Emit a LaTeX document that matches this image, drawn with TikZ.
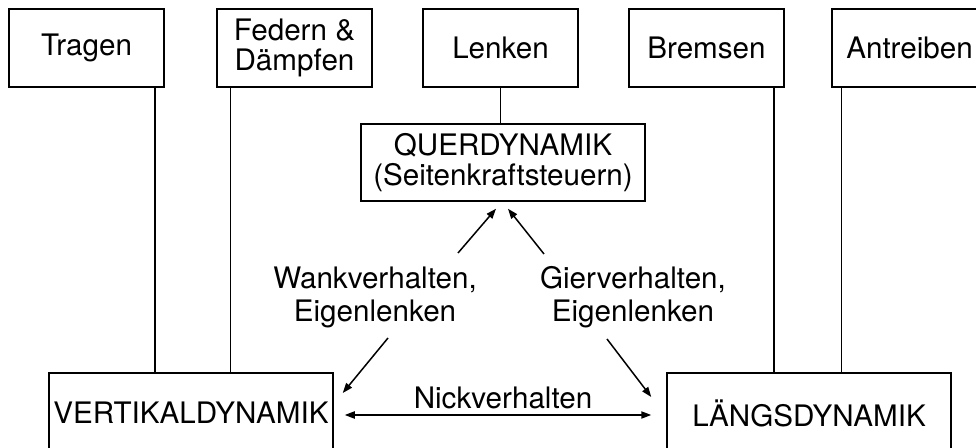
\documentclass[tikz,border=0pt]{standalone}
\usepackage{fontspec}
\setmainfont{TeX Gyre Heros}
\usetikzlibrary{calc,arrows.meta}
\begin{document}
\begin{tikzpicture}[x=0.5pt,y=-0.5pt,
  every node/.style={font=\fontsize{14.8}{15}\selectfont},
  box/.style={draw,line width=0.75pt,align=center,inner sep=0pt,
              minimum width=77.5pt,minimum height=39pt},
  bigbox/.style={box,minimum width=142pt},
  lbl/.style={align=center,inner sep=0pt,font=\fontsize{14.8}{16.5}\selectfont},
  ln/.style={line width=0.75pt},
  arr/.style={line width=0.75pt,-{Triangle[length=5pt,width=3.6pt]}},
  darr/.style={line width=0.75pt,{Triangle[length=5pt,width=3.6pt]}-{Triangle[length=5pt,width=3.6pt]}}]
\useasboundingbox (0,0) rectangle (976,448);
\clip (0,0) rectangle (976,448);

% functions
\node[box] (trag)  at (86.5,48)  {Tragen};
\node[box] (fed)   at (294.5,48) {Federn \&\\Dämpfen};
\node[box] (lenk)  at (500.5,48) {Lenken};
\node[box] (brems) at (706.5,48) {Bremsen};
\node[box] (antr)  at (909.5,48) {Antreiben};

% dynamics domains
\node[bigbox,minimum height=38.5pt] (quer) at (503,162.5) {QUERDYNAMIK\\(Seitenkraftsteuern)};
\node[bigbox,minimum height=40pt] (vert)  at (191,413) {VERTIKALDYNAMIK};
\node[bigbox,minimum height=40pt] (laeng) at (809,413) {LÄNGSDYNAMIK};

% coupling labels
\node[lbl] (wank) at (375,297) {Wankverhalten,\\Eigenlenken};
\node[lbl] (gier) at (633,297) {Gierverhalten,\\Eigenlenken};
\node[lbl] (nick) at (503,398) {Nickverhalten};

% functions to domains
\draw[ln] ([xshift=-5pt]trag.south east) -- ([xshift=-5pt]trag.south east |- vert.north);
\draw[ln] ([xshift=7pt]fed.south west) -- ([xshift=7pt]fed.south west |- vert.north);
\draw[ln] (lenk.south) -- (lenk.south |- quer.north);
\draw[ln] ([xshift=-5.5pt]brems.south east) -- ([xshift=-5.5pt]brems.south east |- laeng.north);
\draw[ln] ([xshift=5pt]antr.south west) -- ([xshift=5pt]antr.south west |- laeng.north);

% couplings
\draw[arr] ($(wank.center)+(83,-44)$) -- ($(quer.south)+(-7,7)$);
\draw[arr] ($(gier.center)+(-89,-43)$) -- ($(quer.south)+(5,7)$);
\draw[arr] ($(wank.center)+(13,41)$) -- ($(vert.east)+(9,-20)$);
\draw[arr] ($(gier.center)+(-26,42)$) -- ($(laeng.west)+(-15,-16)$);
\draw[darr] ($(vert.east)+(11,2)$) -- ($(laeng.west)+(-15,2)$);
\end{tikzpicture}
\end{document}
